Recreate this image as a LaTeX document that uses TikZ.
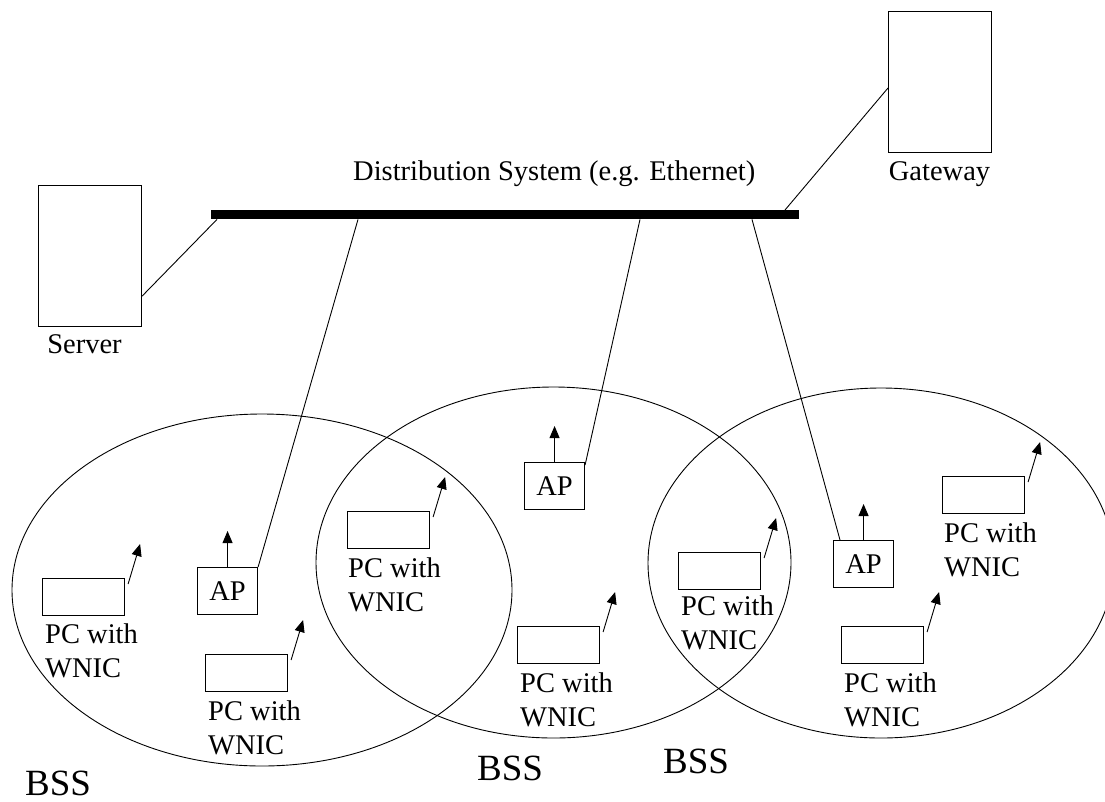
\documentclass[tikz,border=0pt]{standalone}
\usepackage{fontspec}
\setmainfont{Liberation Serif}
\usetikzlibrary{arrows.meta,calc}
\begin{document}
\begin{tikzpicture}[x=1pt,y=-1pt,
  link/.style={line width=0.9pt},
  cell/.style={line width=0.9pt},
  pcbox/.style={draw, line width=1.1pt, fill=white, minimum width=82pt, minimum height=37pt, inner sep=0pt, anchor=north west},
  apbox/.style={draw, line width=1.1pt, fill=white, minimum width=60pt, minimum height=47pt, inner sep=0pt, anchor=north west, font=\fontsize{28.5}{34}\selectfont},
  devbox/.style={draw, line width=1.1pt, fill=white, minimum width=103pt, minimum height=141pt, inner sep=0pt, anchor=north west},
  lbl/.style={inner sep=0pt, font=\fontsize{28.5}{34.5}\selectfont},
  bsslbl/.style={inner sep=0pt, anchor=base west, font=\fontsize{37}{44}\selectfont},
  antenna/.style={line width=0.9pt, -{Triangle[length=12pt,width=10pt]}},
]
\useasboundingbox[fill=white] (0,0) rectangle (1105,801);

% BSS cells
\draw[cell] (262,590) ellipse [x radius=250pt, y radius=176pt];
\draw[cell] (553.5,562.5) ellipse [x radius=237.5pt, y radius=175.5pt];
\draw[cell] (881,563) ellipse [x radius=233pt, y radius=175pt];

% distribution system
\node[fill=black, inner sep=0pt, minimum width=588pt, minimum height=9pt, anchor=north west] (bus) at (211,210) {};
\node[lbl, anchor=base west] (ds) at (353,180) {Distribution System (e.g. Ethernet)};

% server and gateway
\node[devbox] (server) at (38,185) {};
\node[lbl, anchor=base] (serverlbl) at (84.5,353) {Server};
\node[devbox] (gw) at (888,11) {};
\node[lbl, anchor=base] (gwlbl) at (939.5,180) {Gateway};

% access points
\node[apbox] (ap1) at (197,567) {AP};
\node[apbox] (ap2) at (524,462) {AP};
\node[apbox] (ap3) at (833,540) {AP};

% PCs
\node[pcbox] (pc1) at (42,578) {};
\node[pcbox] (pc2) at (205,654) {};
\node[pcbox] (pcA) at (347,511) {};
\node[pcbox] (pcB) at (517,626) {};
\node[pcbox] (pcC) at (678,552) {};
\node[pcbox] (pcD) at (942,476) {};
\node[pcbox] (pcE) at (841,626) {};

\node[lbl, anchor=base west] (t1) at (45,643) {\begin{tabular}[t]{@{}l@{}}PC with\\WNIC\end{tabular}};
\node[lbl, anchor=base west] (t2) at (208,720) {\begin{tabular}[t]{@{}l@{}}PC with\\WNIC\end{tabular}};
\node[lbl, anchor=base west] (tA) at (348,577) {\begin{tabular}[t]{@{}l@{}}PC with\\WNIC\end{tabular}};
\node[lbl, anchor=base west] (tB) at (520,692) {\begin{tabular}[t]{@{}l@{}}PC with\\WNIC\end{tabular}};
\node[lbl, anchor=base west] (tC) at (681,615) {\begin{tabular}[t]{@{}l@{}}PC with\\WNIC\end{tabular}};
\node[lbl, anchor=base west] (tD) at (944,542) {\begin{tabular}[t]{@{}l@{}}PC with\\WNIC\end{tabular}};
\node[lbl, anchor=base west] (tE) at (844,692) {\begin{tabular}[t]{@{}l@{}}PC with\\WNIC\end{tabular}};

% wired links
\draw[link] ($(server.south east)+(0,-31)$) -- ($(bus.south west)+(6,0)$);
\draw[link] ($(gw.north west)+(0,77)$) -- ($(bus.north west)+(574,0)$);
\draw[link] ($(bus.south west)+(147,0)$) -- (ap1.north east);
\draw[link] ($(bus.south west)+(429,0)$) -- ($(ap2.north east)+(0,3)$);
\draw[link] ($(bus.south west)+(541,0)$) -- ($(ap3.north west)+(7,0)$);

% antennas
\foreach \a in {ap1,ap2,ap3} {
  \draw[antenna] (\a.north) -- ++(0,-36);
}
\foreach \p in {pc1,pc2,pcA,pcB,pcC,pcD,pcE} {
  \draw[antenna] ($(\p.north east)+(3,6)$) -- ++(12,-40);
}

% BSS labels
\node[bsslbl] (bss1) at (25,795) {BSS};
\node[bsslbl] (bss2) at (477,780) {BSS};
\node[bsslbl] (bss3) at (663,773) {BSS};
\end{tikzpicture}
\end{document}
